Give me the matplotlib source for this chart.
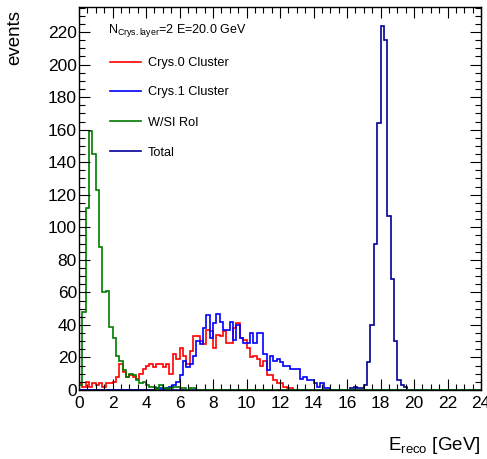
import numpy as np
import matplotlib
matplotlib.use("Agg")
import matplotlib.pyplot as plt
from matplotlib.lines import Line2D
from matplotlib.ticker import MultipleLocator

plt.rcParams['font.family'] = ['Liberation Sans', 'DejaVu Sans']
plt.rcParams['mathtext.fontset'] = 'custom'
plt.rcParams['mathtext.rm'] = 'Liberation Sans'
plt.rcParams['mathtext.it'] = 'Liberation Sans:italic'

# ---------------- data (0.2 GeV bins from 0 to 24 GeV) ----------------
n_bins = 120
bin_width = 0.2

# W/Si RoI, bins starting at 0.0 GeV
green_start = 0
green_counts = [3, 48, 112, 159, 145, 123, 88, 60, 61, 39,
                32, 21, 18, 12, 8, 10, 9, 6, 4, 5,
                3, 2, 2, 0, 3, 1, 0, 1, 2, 2,
                1, 1, 0, 1, 1, 0]

# Crys.0 Cluster, bins starting at 0.0 GeV
red_start = 0
red_counts = [4, 2, 5, 2, 4, 3, 4, 2, 4, 4,
              5, 8, 16, 11, 8, 9, 8, 7, 10, 13,
              15, 16, 14, 16, 16, 14, 16, 10, 22, 19,
              26, 21, 16, 24, 33, 33, 30, 28, 37, 36,
              26, 34, 33, 36, 29, 29, 38, 41, 32, 31,
              26, 20, 21, 19, 15, 18, 9, 9, 6, 4,
              4, 2, 1, 1, 0, 0, 0, 0]

# Crys.1 Cluster, bins starting at 4.4 GeV (bin 22)
blue_start = 22
blue_counts = [0, 1, 1, 0, 1, 2, 3, 5, 9, 18,
               14, 16, 21, 30, 28, 38, 46, 32, 41, 47,
               42, 37, 37, 42, 31, 40, 32, 29, 29, 35,
               29, 35, 35, 22, 12, 21, 18, 19, 17, 15,
               15, 13, 13, 13, 7, 8, 6, 6, 4, 2,
               4, 1, 1]

# Total, bins starting at 16.0 GeV (bin 80)
total_start = 80
total_counts = [0, 1, 2, 1, 1, 3, 17, 40, 90, 164,
                224, 215, 107, 68, 30, 6, 3, 2]

legend_labels = ["Crys.0 Cluster", "Crys.1 Cluster", "W/SI RoI", "Total"]
header = r"N$_{\rm Crys.layer}$=2 E=20.0 GeV"

# ---------------- helpers ----------------
def full(start, counts):
    h = np.zeros(n_bins)
    h[start:start + len(counts)] = counts
    return h

edges = np.arange(n_bins + 1) * bin_width

c_red = '#ff0000'
c_blue = '#0000ff'
c_green = '#007a00'
c_total = '#000099'

W, H = 487, 459
fig = plt.figure(figsize=(W / 100, H / 100), dpi=100)
ax_l, ax_r, ax_t, ax_b = 79, 481, 7, 390
ax = fig.add_axes([ax_l / W, 1 - ax_b / H, (ax_r - ax_l) / W, (ax_b - ax_t) / H])

lw = 1.2
ax.stairs(full(red_start, red_counts), edges, color=c_red, lw=lw)
ax.stairs(full(blue_start, blue_counts), edges, color=c_blue, lw=lw)
ax.stairs(full(total_start, total_counts), edges, color=c_total, lw=lw)
ax.stairs(full(green_start, green_counts), edges, color=c_green, lw=lw)

ax.set_xlim(0, 24)
ax.set_ylim(0, 235.4)
ax.xaxis.set_major_locator(MultipleLocator(2))
ax.xaxis.set_minor_locator(MultipleLocator(0.5))
ax.yaxis.set_major_locator(MultipleLocator(20))
ax.yaxis.set_minor_locator(MultipleLocator(5))
ax.tick_params(which='both', direction='in', top=True, right=True, width=0.8,
               labelsize=12.5)
ax.tick_params(which='major', length=8)
ax.tick_params(which='minor', length=4)
ax.tick_params(axis='x', pad=4)
ax.tick_params(axis='y', pad=1.5)
for s in ax.spines.values():
    s.set_linewidth(1.0)

fig.text(15 / W, 1 - 10 / H, "events", rotation=90, ha='center', va='top', fontsize=13.5)
fig.text(481 / W, 1 - 450 / H, r"E$_{\rm reco}$ [GeV]", ha='right', va='baseline', fontsize=13.5)

# legend
fig.text(107.5 / W, 1 - 33 / H, header, ha='left', va='baseline', fontsize=9)
row_y = [61.5, 90.5, 121, 151]
cols = [c_red, c_blue, c_green, c_total]
for y, c, lab in zip(row_y, cols, legend_labels):
    fig.add_artist(Line2D([110 / W, 141 / W], [1 - y / H, 1 - y / H], color=c, lw=1.2,
                          transform=fig.transFigure))
    fig.text(147.5 / W, 1 - (y + 4.5) / H, lab, ha='left', va='baseline', fontsize=9.2)

fig.savefig("out.png", dpi=100)
